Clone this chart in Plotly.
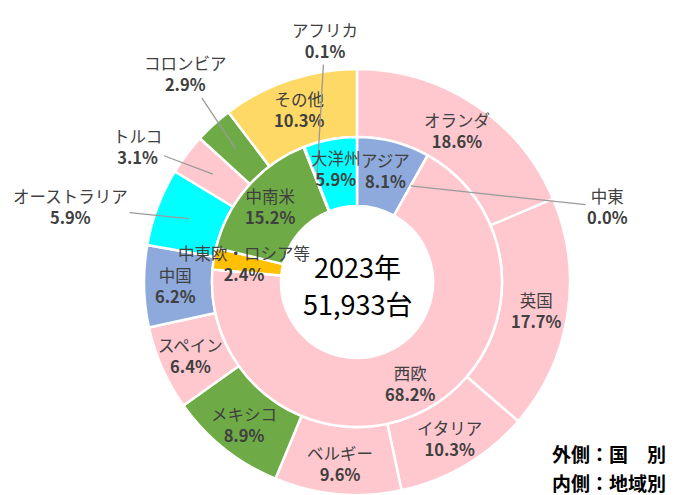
import math
import plotly.graph_objects as go

# ---- data ----
outer_labels = ["オランダ", "英国", "イタリア", "ベルギー", "メキシコ", "スペイン",
                "中国", "オーストラリア", "トルコ", "コロンビア", "その他"]
outer_values = [18.6, 17.7, 10.3, 9.6, 8.9, 6.4, 6.2, 5.9, 3.1, 2.9, 10.3]

inner_labels = ["アジア", "中東", "西欧", "中東欧・ロシア等", "中南米", "アフリカ", "大洋州"]
inner_values = [8.1, 0.0, 68.2, 2.4, 15.2, 0.1, 5.9]

center_lines = ["2023年", "51,933台"]
legend_lines = ["外側：国　別", "内側：地域別"]

# ---- styles ----
PINK, BLUE, CYAN, GREEN, YELLOW, ORANGE = "#FFC7CE", "#8EA9DB", "#00FFFF", "#6EAB46", "#FFD966", "#FFC000"
outer_colors = [PINK, PINK, PINK, PINK, GREEN, PINK, BLUE, CYAN, PINK, GREEN, YELLOW]
inner_colors = [BLUE, "#A5A5A5", PINK, ORANGE, GREEN, "#C00000", CYAN]

OFF = 8  # default page body margin
W, H = 676 - OFF, 495 - OFF
CX, CY = 357 - OFF, 282 - OFF
R_OUT, R_MID, R_HOLE = 213, 145, 76
FONT = "Noto Sans CJK JP"
TXT = "#404040"
FS = 16.5


def px2paper(x, y):
    return x / W, 1 - y / H


fig = go.Figure()
fig.add_trace(go.Pie(
    labels=outer_labels, values=outer_values, sort=False, direction="clockwise",
    rotation=0, hole=R_MID / R_OUT, textinfo="none", textposition="none",
    marker=dict(colors=outer_colors, line=dict(color="white", width=2.5)),
    domain=dict(x=[(CX - R_OUT) / W, (CX + R_OUT) / W],
                y=[max(0, 1 - (CY + R_OUT) / H), 1 - (CY - R_OUT) / H]),
    showlegend=False, hoverinfo="label+percent"))
fig.add_trace(go.Pie(
    labels=inner_labels, values=inner_values, sort=False, direction="clockwise",
    rotation=0, hole=R_HOLE / R_MID, textinfo="none", textposition="none",
    marker=dict(colors=inner_colors, line=dict(color="white", width=2.5)),
    domain=dict(x=[(CX - R_MID) / W, (CX + R_MID) / W],
                y=[1 - (CY + R_MID) / H, 1 - (CY - R_MID) / H]),
    showlegend=False, hoverinfo="label+percent"))


def angle_at(values, cum):
    return cum / sum(values) * 2 * math.pi


def mid_points(values, r):
    pts = []
    cum = 0.0
    for v in values:
        a = angle_at(values, cum + v / 2)
        pts.append((CX + r * math.sin(a), CY - r * math.cos(a)))
        cum += v
    return pts


def boundary_point(values, idx, r):
    a = angle_at(values, sum(values[:idx]))
    return CX + r * math.sin(a), CY - r * math.cos(a)


annotations = []

# outside-label offsets (pixels from anchor point to label centre)
outer_out = {"オーストラリア": (-118, -12), "トルコ": (-75, -28), "コロンビア": (-50, -75)}
inner_out = {"中東": (197, 21), "アフリカ": (8, -139)}

for labels, values, r_lab, r_anchor, outs in [
        (outer_labels, outer_values, 182, 180, outer_out),
        (inner_labels, inner_values, 115, 110, inner_out)]:
    pts_lab = mid_points(values, r_lab)
    pts_anc = mid_points(values, r_anchor)
    for i, (lab, v) in enumerate(zip(labels, values)):
        text = f"{lab}<br><b>{v:.1f}%</b>"
        if lab in outs:
            if v < 0.05:
                px_, py_ = boundary_point(values, i, r_anchor)
            else:
                px_, py_ = pts_anc[i]
            x, y = px2paper(px_, py_)
            dx, dy = outs[lab]
            annotations.append(dict(
                x=x, y=y, xref="paper", yref="paper", text=text, showarrow=True,
                ax=dx, ay=dy, arrowhead=0, arrowwidth=1.3, arrowcolor="#9A9A9A",
                xanchor="center", yanchor="middle",
                font=dict(family=FONT, size=FS, color=TXT), align="center"))
        else:
            x, y = px2paper(*pts_lab[i])
            annotations.append(dict(
                x=x, y=y, xref="paper", yref="paper", text=text, showarrow=False,
                xanchor="center", yanchor="middle",
                font=dict(family=FONT, size=FS, color=TXT), align="center"))

# centre text
for line, py in zip(center_lines, [266 - OFF, 303 - OFF]):
    x, y = px2paper(CX, py)
    annotations.append(dict(x=x, y=y, xref="paper", yref="paper", text=line,
                            xanchor="center", yanchor="middle",
                            showarrow=False, font=dict(family=FONT, size=27, color="black")))

# bottom-right note
for line, py in zip(legend_lines, [453 - OFF, 482 - OFF]):
    x, y = px2paper(668 - OFF, py)
    annotations.append(dict(x=x, y=y, xref="paper", yref="paper", text=f"<b>{line}</b>",
                            xanchor="right", yanchor="middle", showarrow=False,
                            font=dict(family=FONT, size=19, color="black")))

fig.update_layout(
    width=W, height=H, margin=dict(l=0, r=0, t=0, b=0),
    paper_bgcolor="white", plot_bgcolor="white",
    annotations=annotations)

fig.write_html("out.html")
